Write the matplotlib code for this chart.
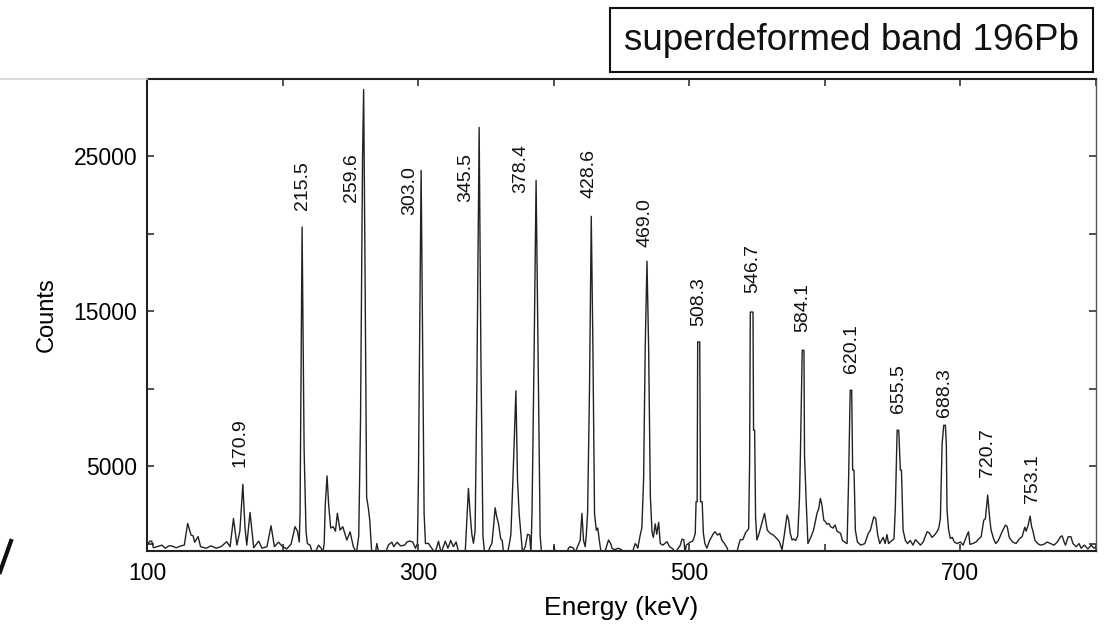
import matplotlib
matplotlib.use("Agg")
import matplotlib.pyplot as plt
from matplotlib.lines import Line2D
from matplotlib.patches import Rectangle

plt.rcParams["font.family"] = ["Liberation Sans", "DejaVu Sans"]

# ---- data ------------------------------------------------------------------
# spectrum trace (energy in keV, counts); values below the axis are clipped
SPEC_E = [
    100.0, 102.0, 103.5, 104.7, 107.6, 111.0, 113.5, 116.0, 118.0, 121.6,
    125.0, 127.5, 130.0, 132.5, 134.0, 135.2, 137.7, 139.5, 143.6, 147.3,
    151.0, 154.6, 158.8, 161.3, 163.8, 166.3, 168.5, 170.7, 172.3, 173.6,
    176.0, 178.7, 182.4, 184.8, 188.5, 191.5, 194.0, 197.0, 199.5, 203.0,
    206.3, 209.2, 211.0, 212.3, 212.9, 214.4, 215.9, 217.3, 218.3, 220.3,
    222.0, 224.0, 226.5, 228.5, 229.7, 230.7, 231.5, 232.8, 234.0, 235.5,
    237.3, 239.0, 240.4, 242.4, 244.4, 247.4, 249.8, 252.2, 254.5, 256.2,
    257.5, 259.0, 259.8, 260.8, 262.0, 263.3, 264.3, 265.8, 268.5, 269.5,
    271.0, 276.0, 278.0, 280.6, 282.0, 284.5, 287.0, 290.0, 292.0, 294.1,
    296.0, 298.0, 299.5, 300.2, 301.0, 302.2, 303.4, 304.4, 305.4, 307.6,
    310.0, 312.5, 315.0, 317.0, 320.0, 322.0, 324.0, 326.0, 328.0, 330.0,
    334.7, 336.0, 337.1, 338.3, 339.6, 340.8, 342.0, 343.3, 345.0, 346.3,
    347.8, 349.0, 351.5, 353.1, 354.4, 355.5, 356.8, 358.0, 359.3, 360.9,
    362.0, 363.0, 366.0, 367.5, 368.4, 369.9, 372.1, 373.3, 374.5, 375.8,
    377.0, 379.0, 380.7, 382.2, 383.2, 384.0, 385.5, 387.0, 388.5, 390.0,
    391.0, 400.0, 400.4, 401.0, 409.5, 410.9, 412.2, 414.6, 415.9, 417.1,
    419.5, 420.8, 422.0, 423.2, 424.0, 425.0, 426.4, 427.7, 428.9, 430.1,
    431.4, 432.5, 433.8, 435.0, 437.5, 440.4, 442.0, 443.0, 445.0, 447.5,
    450.0, 452.0, 458.0, 460.1, 461.0, 462.0, 463.8, 465.0, 466.3, 467.5,
    468.8, 470.0, 471.3, 472.5, 473.5, 474.9, 476.0, 477.4, 478.6, 480.5,
    483.5, 485.5, 488.0, 489.5, 493.4, 494.6, 496.0, 496.8, 497.8, 500.7,
    502.5, 503.2, 504.4, 505.0, 505.8, 506.2, 507.7, 508.3, 509.5, 510.4,
    511.5, 513.0, 515.0, 517.9, 519.0, 520.9, 522.5, 524.0, 526.0, 528.0,
    529.0, 535.0, 536.4, 537.6, 539.5, 541.5, 543.8, 544.5, 545.0, 547.0,
    547.4, 548.2, 548.9, 549.9, 551.5, 554.8, 555.5, 557.5, 559.8, 562.0,
    564.5, 566.5, 568.4, 570.0, 572.1, 573.3, 574.5, 575.8, 577.0, 578.5,
    580.0, 581.3, 582.0, 583.3, 584.6, 585.0, 586.2, 587.5, 589.3, 591.7,
    594.2, 595.5, 596.7, 597.8, 599.2, 600.5, 601.5, 603.0, 604.2, 606.0,
    607.5, 609.0, 611.6, 613.0, 614.5, 616.4, 617.5, 618.7, 619.8, 620.5,
    621.5, 622.5, 624.0, 626.5, 629.5, 632.0, 633.6, 636.1, 637.5, 639.0,
    640.5, 643.0, 644.5, 645.8, 647.0, 649.5, 651.0, 652.0, 653.3, 654.5,
    655.7, 656.5, 657.7, 659.4, 661.0, 663.0, 665.0, 666.8, 668.5, 670.5,
    672.5, 675.4, 677.0, 679.0, 681.0, 683.0, 684.0, 685.2, 686.5, 687.7,
    688.9, 689.6, 690.1, 691.3, 692.6, 694.0, 695.5, 697.5, 700.0, 702.0,
    704.9, 706.0, 707.0, 709.0, 711.5, 713.5, 715.3, 717.2, 718.4, 720.1,
    721.6, 722.6, 724.5, 726.0, 728.0, 730.7, 733.2, 734.5, 736.0, 738.5,
    741.0, 743.5, 745.5, 747.5, 748.5, 750.0, 751.4, 752.5, 753.5, 755.0,
    757.0, 759.0, 761.5, 764.0, 766.5, 769.0, 771.5, 773.8, 775.0, 776.5,
    777.5, 779.5, 781.5, 783.0, 785.5, 787.5, 789.0, 791.5, 794.0, 796.5,
    798.5, 800.0,
]
SPEC_C = [
    -100, 150, 160, -270, -200, -100, -300, -150, -150, -270,
    -150, -100, 1300, 550, 500, 90, 450, -200, -300, -150,
    -300, -200, 120, -200, 1620, -100, 800, 3820, 1000, -100,
    2010, -270, 160, -300, -200, 1150, -200, 90, -150, -350,
    -30, 1090, 800, 100, 2000, 20440, 6000, 800, 0, -100,
    -600, -600, -100, -300, -600, 0, 2500, 4370, 2500, 1000,
    1090, 800, 1950, 870, 1090, 225, 760, -200, -600, 500,
    8000, 25000, 29320, 18000, 3000, 2270, 1500, -600, -600, 0,
    -600, -600, -100, 90, -200, 90, -150, -100, 120, 160,
    100, -300, 0, 4100, 12000, 24100, 12000, 1940, 0, 13,
    -300, -600, 150, -600, 150, -300, 200, -200, 100, -600,
    -600, 1620, 3560, 2010, 600, 20, 800, 10000, 26870, 12000,
    500, -600, -600, -200, 0, 1000, 2310, 1720, 1270, 300,
    200, -600, -600, 100, 600, 4100, 9860, 4100, 1940, 650,
    -600, -200, 600, 550, -600, 2000, 12000, 23450, 12000, 500,
    -600, -600, -200, -600, -600, -300, -200, -300, -600, -300,
    200, 1950, 200, -200, 500, 2000, 10000, 21130, 12700, 1940,
    860, 1000, 100, -600, -600, 225, 0, -300, -400, -300,
    -400, -600, -600, 0, -100, -300, 550, 1000, 4100, 12700,
    18230, 12690, 3010, 760, 400, 1270, 600, 1370, 0, -100,
    120, -200, -350, -600, -100, 280, 250, -600, -100, 90,
    160, 300, 660, 2700, 2700, 13020, 13020, 2700, 2700, 660,
    0, -300, 200, 660, 760, 550, 660, 225, 0, -300,
    -600, -600, -100, 250, 250, 700, 960, 5280, 14950, 14950,
    7320, 7320, 1670, 230, 660, 1730, 1950, 870, 650, 550,
    330, 120, -400, 500, 1840, 1520, 660, 230, 300, 200,
    500, 3020, 5920, 12480, 12480, 5700, 2790, 0, 335, 870,
    1950, 2270, 2920, 2500, 1520, 1400, 1250, 1300, 1090, 1000,
    1200, 800, 660, 200, 100, 0, 4100, 9900, 9900, 4740,
    4740, 870, 100, -100, 0, 650, 870, 1730, 1620, 550,
    0, 400, 0, 580, 0, 200, 300, 2370, 7320, 7320,
    4740, 4740, 870, 200, 0, 200, -100, 250, 100, -100,
    100, 760, 700, 400, 560, 800, 1000, 1620, 6460, 7640,
    7640, 6400, 2170, 870, 330, 400, 100, 0, 100, -100,
    570, 760, -50, 0, 100, 300, 440, 1510, 1600, 3130,
    1600, 870, 300, 0, 200, 760, 1190, 1100, 400, 100,
    0, 300, 450, 1060, 800, 1200, 1770, 1100, 800, 200,
    0, -100, -50, 100, 0, -100, 100, 440, 500, 100,
    -100, 440, 440, 0, -200, 0, -300, -100, -350, -100,
    -300, -200,
]

# labelled transitions of the band
PEAK_LABELS = ["170.9", "215.5", "259.6", "303.0", "345.5", "378.4", "428.6",
               "469.0", "508.3", "546.7", "584.1", "620.1", "655.5", "688.3",
               "720.7", "753.1"]
# where each label sits (keV, counts at the start of the rotated text)
LABEL_X = [168.6, 215.0, 250.6, 294.1, 335.4, 375.8, 426.2, 467.5, 506.7,
           546.7, 583.8, 619.7, 654.0, 688.2, 720.1, 752.9]
LABEL_Y = [4935, 21520, 22030, 21190, 22030, 22610, 22290, 19130, 14050,
           16160, 13660, 11000, 8420, 8160, 4290, 2630]

X_TICKS = [100, 200, 300, 400, 500, 600, 700, 800]
X_TICKLABELS = ["100", "", "300", "", "500", "", "700", ""]
Y_TICKS = [0, 5000, 10000, 15000, 20000, 25000]
Y_TICKLABELS = ["", "5000", "", "15000", "", "25000"]

W, H = 1104, 628
fig = plt.figure(figsize=(W / 100, H / 100), dpi=100)
ax = fig.add_axes([147 / W, 1 - 551 / H, (1096 - 147) / W, (551 - 79) / H])

ax.plot(SPEC_E, SPEC_C, color="#222222", lw=1.0)

for lab, lx, ly in zip(PEAK_LABELS, LABEL_X, LABEL_Y):
    ax.text(lx, ly, lab, rotation=90, ha="center", va="bottom",
            fontsize=14, color="#111")

ax.set_xlim(100, 800)
ax.set_ylim(-480, 30000)
ax.set_xticks(X_TICKS)
ax.set_xticklabels(X_TICKLABELS)
ax.set_yticks(Y_TICKS)
ax.set_yticklabels(Y_TICKLABELS)
ax.tick_params(direction="in", length=5, width=1.1, labelsize=16.5,
               top=True, right=True, color="#222")
ax.tick_params(axis="x", pad=8)
ax.tick_params(axis="y", pad=7)
for side, sp in ax.spines.items():
    sp.set_linewidth(1.5)
    sp.set_color("#222")
ax.spines["right"].set_linewidth(1.0)
ax.spines["right"].set_color("#555")

ax.set_xlabel("Energy (keV)", fontsize=19, labelpad=8)
ax.set_ylabel("Counts", fontsize=17, labelpad=11)

# title box in the top-right corner
fig.add_artist(Rectangle((610 / W, 1 - 72 / H), (1093 - 610) / W, 64 / H,
                         transform=fig.transFigure, fill=False,
                         edgecolor="#111", lw=1.5))
fig.text((610 + 1093) / 2 / W, 1 - 40 / H, "superdeformed band 196Pb",
         ha="center", va="center", fontsize=26.5, color="#111")

# edge of the cropped source picture
fig.add_artist(Line2D([0, 147 / W], [1 - 78.7 / H, 1 - 78.7 / H],
                      transform=fig.transFigure, color="#d4d4d4", lw=1.2))
fig.add_artist(Line2D([11 / W, 0], [1 - 541 / H, 1 - 572 / H],
                      transform=fig.transFigure, color="#111", lw=3))

fig.savefig("out.png", dpi=100, facecolor="white")
